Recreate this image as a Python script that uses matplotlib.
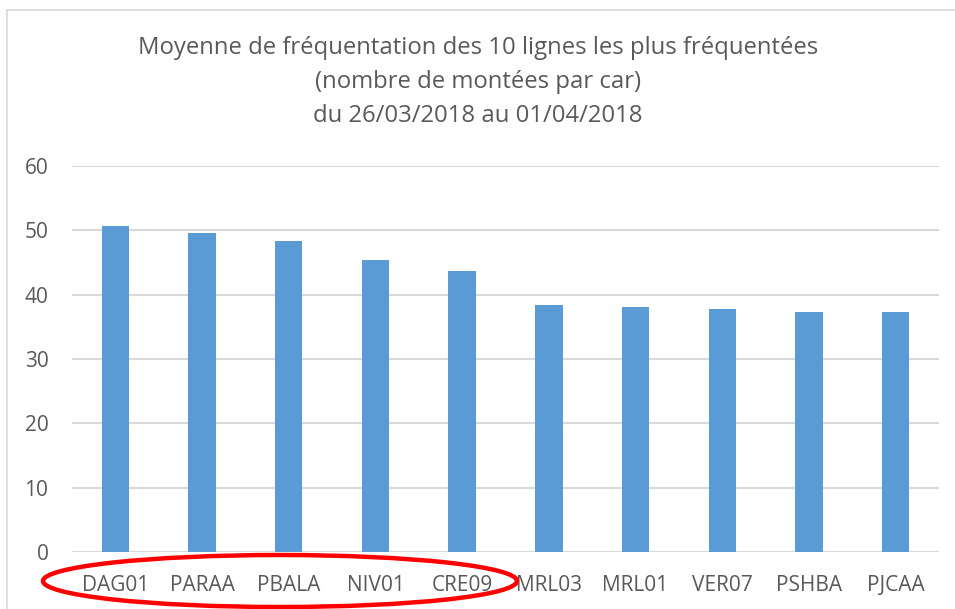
import matplotlib
matplotlib.use("Agg")
from matplotlib import pyplot as plt
from matplotlib.patches import Ellipse
from matplotlib.lines import Line2D

lignes = ['DAG01', 'PARAA', 'PBALA', 'NIV01', 'CRE09',
          'MRL03', 'MRL01', 'VER07', 'PSHBA', 'PJCAA']
moyennes = [50.7, 49.5, 48.3, 45.3, 43.7, 38.4, 38.0, 37.8, 37.3, 37.3]
yticks = [0, 10, 20, 30, 40, 50, 60]
titre = ("Moyenne de fréquentation des 10 lignes les plus fréquentées\n"
         "(nombre de montées par car)\n"
         "du 26/03/2018 au 01/04/2018")

W, H = 955, 609
plt.rcParams['font.family'] = ['Open Sans', 'DejaVu Sans']
gris = '#595959'

fig = plt.figure(figsize=(W / 100, H / 100), dpi=100)
ax = fig.add_axes([72 / W, 1 - 552.3 / H, (939 - 72) / W, (552.3 - 165.7) / H])

x = range(len(lignes))
ax.bar(x, moyennes, width=0.316, color='#5B9BD5', zorder=3)
ax.set_xlim(-0.5, len(lignes) - 0.5)
ax.set_ylim(0, 60)
ax.set_yticks(yticks)
ax.set_xticks(list(x))
ax.set_xticklabels(lignes)
ax.grid(axis='y', color='#D9D9D9', linewidth=1.5, zorder=0)
for s in ax.spines.values():
    s.set_visible(False)
ax.tick_params(axis='both', length=0, labelsize=15, colors=gris)
ax.tick_params(axis='y', pad=17)
ax.tick_params(axis='x', pad=16)

fig.text(478 / W, 1 - 82 / H, titre, ha='center', va='center',
         fontsize=17.2, color=gris, linespacing=1.55)

# cadre du graphique
fig.add_artist(Line2D([7 / W, 7 / W], [0, 1 - 10 / H], color='#D9D9D9',
                      linewidth=1.2, transform=fig.transFigure))
fig.add_artist(Line2D([7 / W, 1], [1 - 10 / H, 1 - 10 / H], color='#D9D9D9',
                      linewidth=1.2, transform=fig.transFigure))

# ellipse rouge autour des 5 premieres lignes
fig.add_artist(Ellipse((280 / W, 1 - 581 / H), 474 / W, 52 / H,
                       transform=fig.transFigure, fill=False,
                       edgecolor='#FF0000', linewidth=3.2))

fig.savefig('out.png', dpi=100)
